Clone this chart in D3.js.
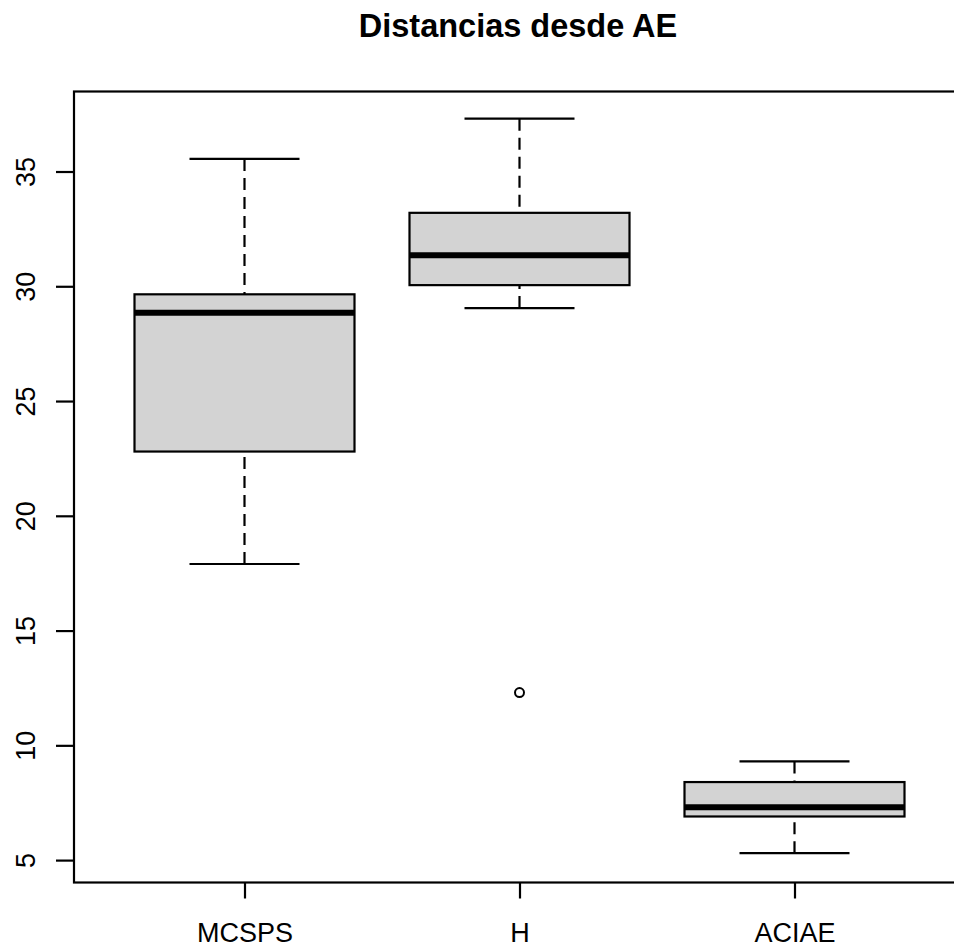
<!DOCTYPE html>
<html>
<head>
<meta charset="utf-8">
<script src="https://cdn.jsdelivr.net/npm/d3@7/dist/d3.min.js"></script>
<style>
  body { margin: 0; background: #fff; }
  svg { display: block; font-family: "Liberation Sans", Arial, sans-serif; }
</style>
</head>
<body>
<div id="chart"></div>
<script>
// boxplot stats
var groups = ["MCSPS", "H", "ACIAE"];
var lowWhisk = [17.9, 29.05, 5.3];
var q1 = [22.8, 30.05, 6.9];
var medians = [28.85, 31.35, 7.3];
var q3 = [29.65, 33.2, 8.4];
var highWhisk = [35.55, 37.3, 9.3];
var outliers = [{g: 1, v: 12.3}];
var yTicks = [5, 10, 15, 20, 25, 30, 35];
var title = "Distancias desde AE";

var width = 954, height = 948;
var plot = {left: 74, top: 91.5, bottom: 882.5};

var svg = d3.select("#chart").append("svg")
	.attr("width", width)
	.attr("height", height);

var y = d3.scaleLinear().domain([4.024, 38.486]).range([plot.bottom, plot.top]);
var x = d3.scaleLinear().domain([0.38, 3.62]).range([plot.left, plot.left + 3.24 * 275]);

var boxes = groups.map(function(g, i) {
	return {name: g, pos: i + 1, lo: lowWhisk[i], q1: q1[i], med: medians[i], q3: q3[i], hi: highWhisk[i]};
});

/* whiskers (dashed) */
var wg = svg.append("g");
boxes.forEach(function(d) {
	[[d.hi, d.q3], [d.lo, d.q1]].forEach(function(p) {
		wg.append("line")
			.attr("x1", x(d.pos)).attr("x2", x(d.pos))
			.attr("y1", y(p[0])).attr("y2", y(p[1]))
			.attr("stroke", "#000").attr("stroke-width", 2.2)
			.attr("stroke-dasharray", "12,7");
	});
	[d.hi, d.lo].forEach(function(v) {
		wg.append("line")
			.attr("x1", x(d.pos - 0.2)).attr("x2", x(d.pos + 0.2))
			.attr("y1", y(v)).attr("y2", y(v))
			.attr("stroke", "#000").attr("stroke-width", 2.2);
	});
});

/* boxes */
svg.selectAll(".box")
	.data(boxes)
	.enter()
	.append("rect")
	.attr("class", "box")
	.attr("x", function(d) { return x(d.pos - 0.4); })
	.attr("width", function(d) { return x(d.pos + 0.4) - x(d.pos - 0.4); })
	.attr("y", function(d) { return y(d.q3); })
	.attr("height", function(d) { return y(d.q1) - y(d.q3); })
	.attr("fill", "#d3d3d3")
	.attr("stroke", "#000")
	.attr("stroke-width", 2.2);

svg.selectAll(".median")
	.data(boxes)
	.enter()
	.append("line")
	.attr("class", "median")
	.attr("x1", function(d) { return x(d.pos - 0.4); })
	.attr("x2", function(d) { return x(d.pos + 0.4); })
	.attr("y1", function(d) { return y(d.med); })
	.attr("y2", function(d) { return y(d.med); })
	.attr("stroke", "#000")
	.attr("stroke-width", 6);

svg.selectAll(".out")
	.data(outliers)
	.enter()
	.append("circle")
	.attr("cx", function(d) { return x(d.g + 1); })
	.attr("cy", function(d) { return y(d.v); })
	.attr("r", 4.5)
	.attr("fill", "none")
	.attr("stroke", "#000")
	.attr("stroke-width", 2);

/* frame */
svg.append("rect")
	.attr("x", plot.left)
	.attr("y", plot.top)
	.attr("width", 3.24 * 275)
	.attr("height", plot.bottom - plot.top)
	.attr("fill", "none")
	.attr("stroke", "#000")
	.attr("stroke-width", 2.2);

/* axes */
var yAxis = d3.axisLeft(y).tickValues(yTicks).tickSize(18);
var ya = svg.append("g")
	.attr("transform", "translate(" + plot.left + ",0)")
	.call(yAxis);
ya.select(".domain").remove();
ya.selectAll("line").attr("stroke-width", 2.2);
ya.selectAll("text")
	.attr("transform", "rotate(-90)")
	.attr("x", 0)
	.attr("y", -39)
	.attr("dy", 0)
	.style("text-anchor", "middle")
	.style("font-size", "27px")
	.attr("fill", "#000");

var xAxis = d3.axisBottom(x).tickValues([1, 2, 3]).tickSize(16)
	.tickFormat(function(d) { return groups[d - 1]; });
var xa = svg.append("g")
	.attr("transform", "translate(0," + plot.bottom + ")")
	.call(xAxis);
xa.select(".domain").remove();
xa.selectAll("line").attr("stroke-width", 2.2);
xa.selectAll("text")
	.attr("y", 59)
	.attr("dy", 0)
	.style("font-size", "27px")
	.attr("fill", "#000");

svg.append("text")
	.attr("x", 518)
	.attr("y", 37)
	.attr("text-anchor", "middle")
	.style("font-size", "32.5px")
	.style("font-weight", "bold")
	.text(title);
</script>
</body>
</html>
